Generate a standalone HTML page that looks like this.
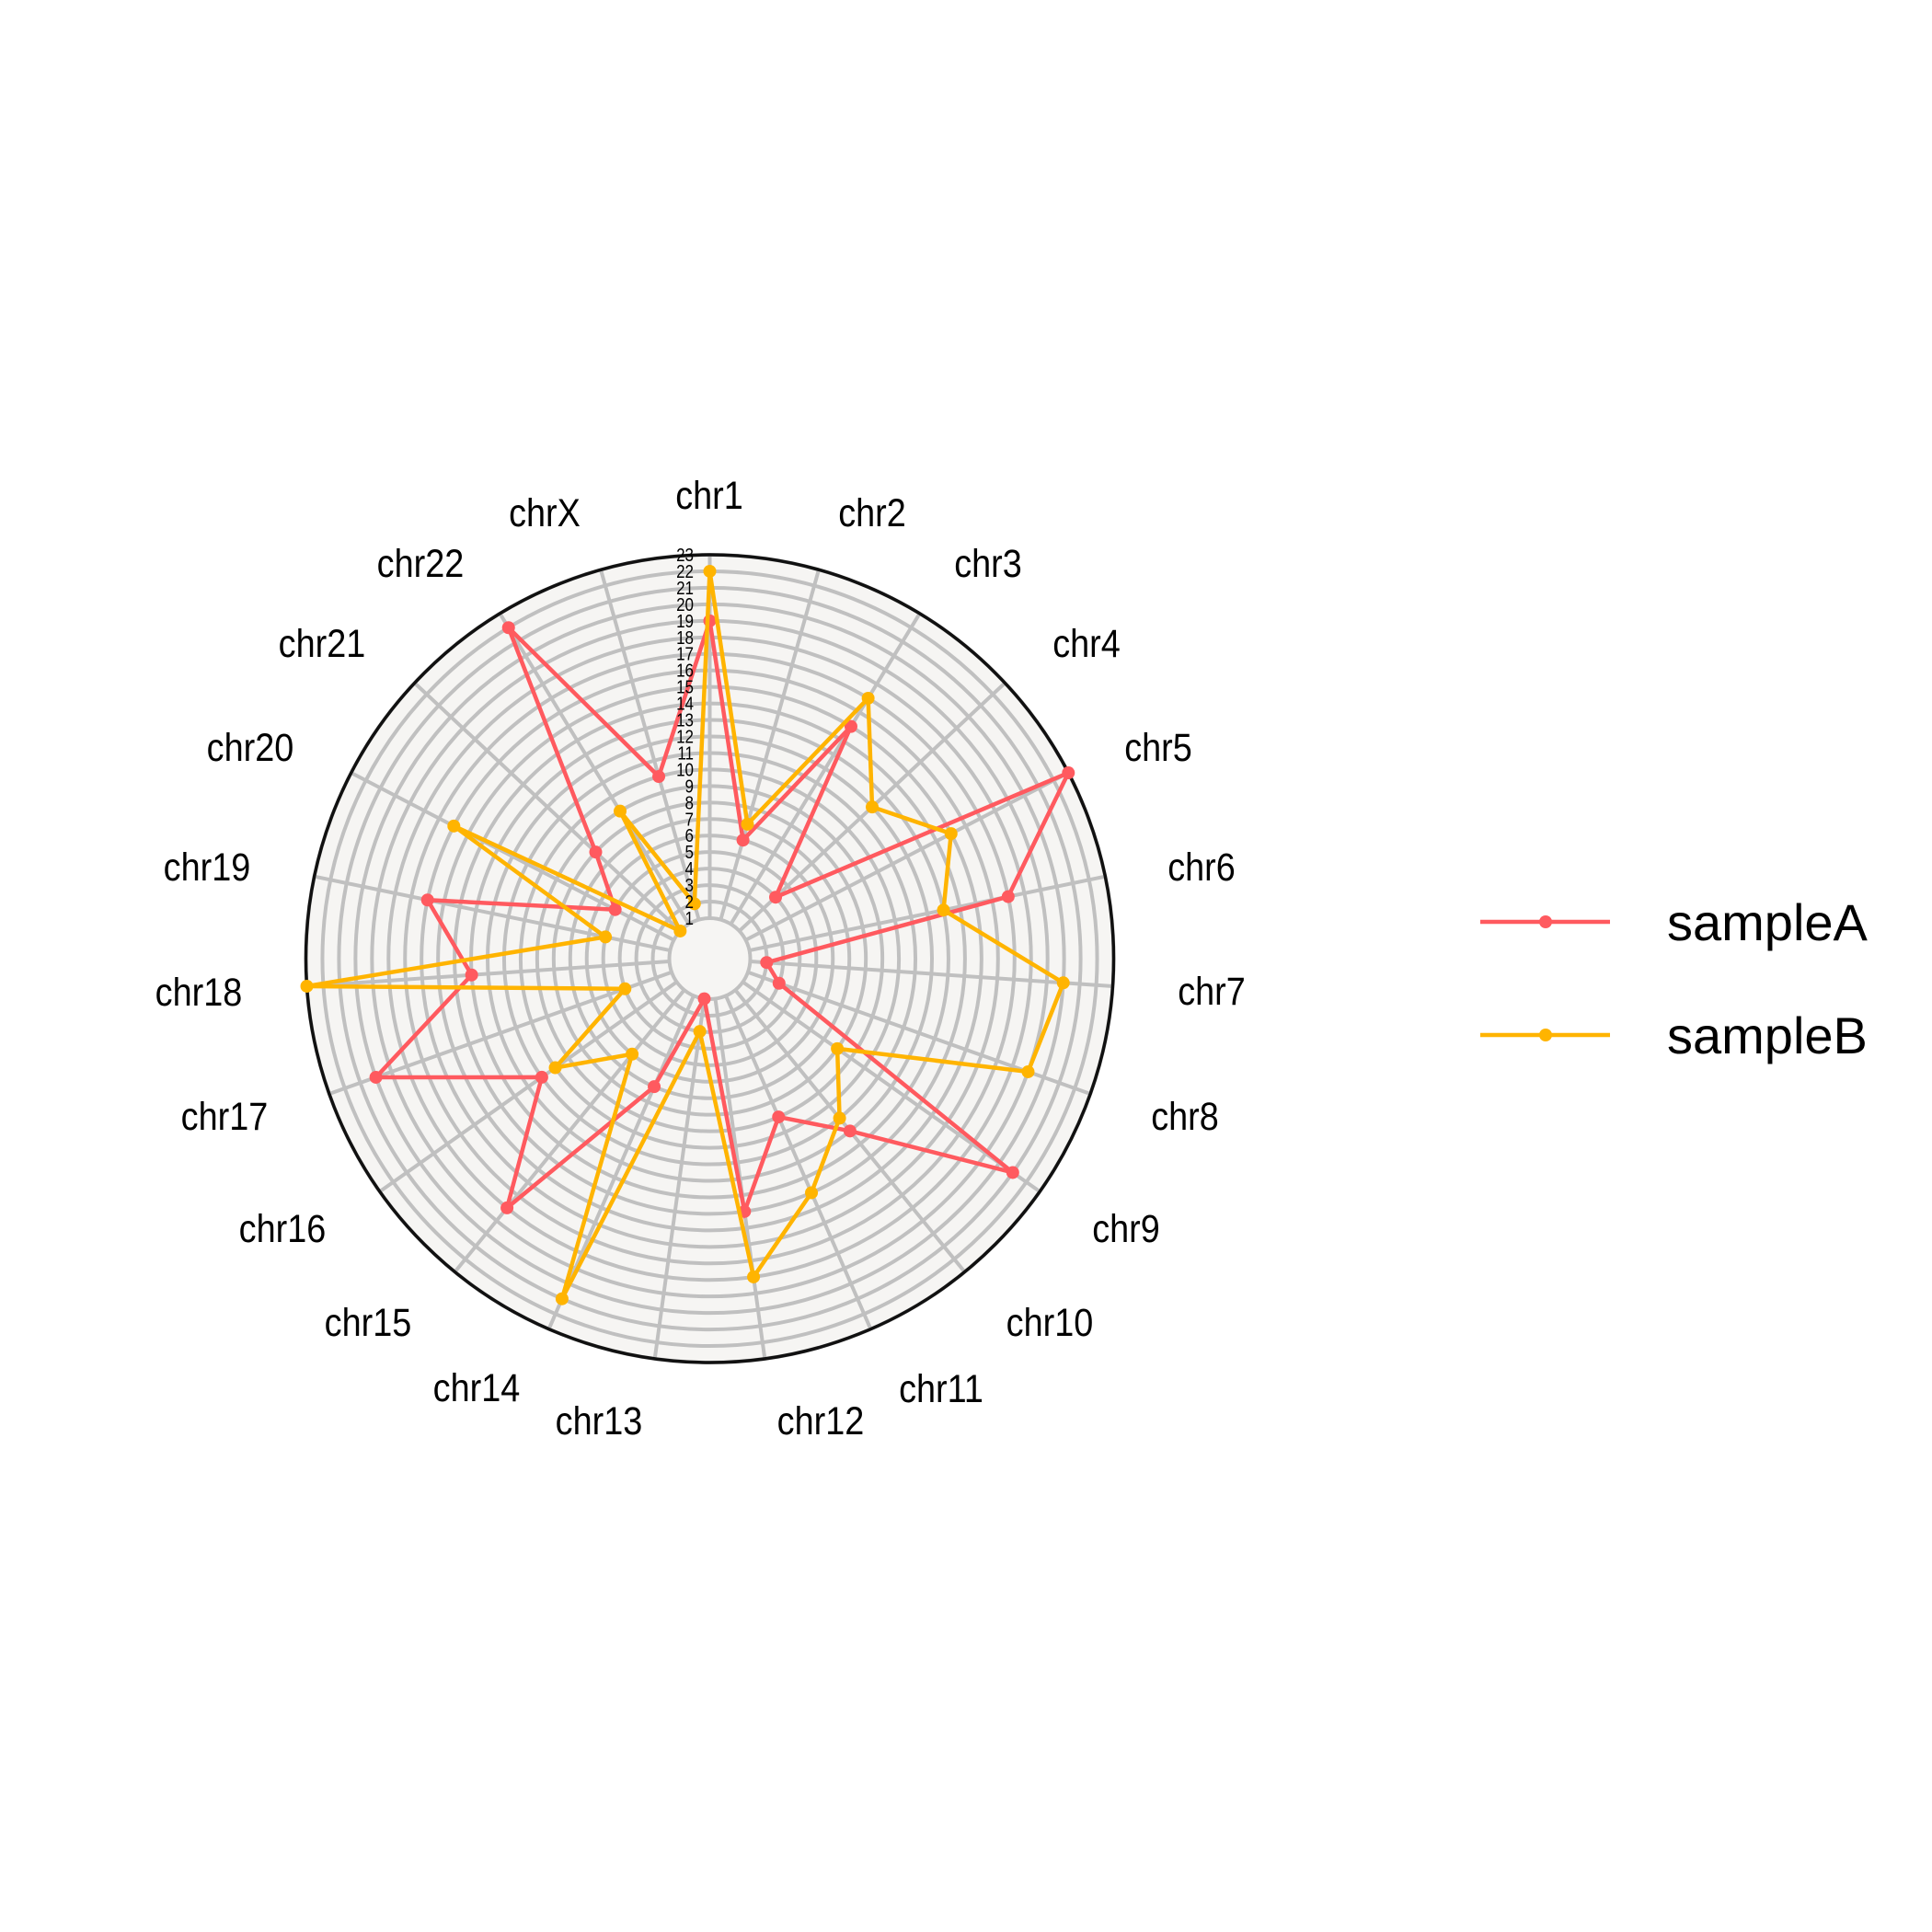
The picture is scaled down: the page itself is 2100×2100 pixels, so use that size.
<!DOCTYPE html>
<html><head><meta charset="utf-8"><style>
html,body{margin:0;padding:0;background:#fff;}
svg{display:block;font-family:"Liberation Sans",sans-serif;}
</style></head><body>
<svg id="chart" width="2100" height="2100" viewBox="0 0 2100 2100" xmlns="http://www.w3.org/2000/svg">
<g id="grid"></g>
<g id="series"></g>
<g id="labels"></g>
<g id="ticks"></g>
<g>
  <g>
    <line x1="1609" y1="1002" x2="1750" y2="1002" stroke="#ff5a5f" stroke-width="4.5"/>
    <circle cx="1680" cy="1002" r="7" fill="#ff5a5f"/>
    <text x="1812" y="1022" font-size="56" fill="#000">sampleA</text>
  </g>
  <g>
    <line x1="1609" y1="1125" x2="1750" y2="1125" stroke="#ffb400" stroke-width="4.5"/>
    <circle cx="1680" cy="1125" r="7" fill="#ffb400"/>
    <text x="1812" y="1145" font-size="56" fill="#000">sampleB</text>
  </g>
</g>
</svg>
<script>
const categories = ["chr1","chr2","chr3","chr4","chr5","chr6","chr7","chr8","chr9","chr10","chr11","chr12","chr13","chr14","chr15","chr16","chr17","chr18","chr19","chr20","chr21","chr22","chrX"];
const sampleA = [19,6,15,4,23,17,2,3,21,12,9,14,1,7,18,11,20,13,16,5,8,22,10];
const sampleB = [22,7,17,12,15,13,20,19,8,11,14,18,3,21,6,10,4,23,5,16,1,9,2];
const tickValues = [1,2,3,4,5,6,7,8,9,10,11,12,13,14,15,16,17,18,19,20,21,22,23];

const NS="http://www.w3.org/2000/svg";
const cx=771.5, cy=1042, r0=44, vMin=1, vMax=23, rMax=439;
function rScale(v){return r0+(v-vMin)*(rMax-r0)/(vMax-vMin);}
function ang(i){return i*2*Math.PI/categories.length;}
function pt(i,v){const r=rScale(v),a=ang(i);return [cx+r*Math.sin(a),cy-r*Math.cos(a)];}
function mk(tag,attrs,parent){const e=document.createElementNS(NS,tag);for(const k in attrs)e.setAttribute(k,attrs[k]);parent.appendChild(e);return e;}

const grid=document.getElementById('grid');
const bg=mk('circle',{cx:cx,cy:cy,r:rMax,fill:'#f6f5f3'},grid);


tickValues.forEach(v=>{
  const c=mk('circle',{cx:cx,cy:cy,r:rScale(v),fill:'none',stroke:'#c0c0c0','stroke-width':4},grid);
  
  
});
categories.forEach((c,i)=>{
  const a=pt(i,vMin),b=pt(i,vMax);
  const l=mk('line',{x1:a[0],y1:a[1],x2:b[0],y2:b[1],stroke:'#c0c0c0','stroke-width':4},grid);
  
  
});
const outer=mk('circle',{cx:cx,cy:cy,r:rMax,fill:'none',stroke:'#111','stroke-width':3.5},grid);



const series=document.getElementById('series');
function drawSeries(vals,color,name){
  const g=mk('g',{},series);
  
  
  const pts=vals.map((v,i)=>pt(i,v));
  pts.push(pts[0]);
  const pl=mk('polyline',{points:pts.map(p=>p.join(',')).join(' '),fill:'none',stroke:color,'stroke-width':4.5,'stroke-linejoin':'miter'},g);
  
  
  vals.forEach((v,i)=>{
    const p=pt(i,v);
    const c=mk('circle',{cx:p[0],cy:p[1],r:7,fill:color},g);
    
    
  });
}
drawSeries(sampleA,'#ff5a5f','sampleA');
drawSeries(sampleB,'#ffb400','sampleB');

// label layout (pixel anchors for category text, measured from reference)
const labelX=[771,948,1074,1181,1259,1306,1317,1288,1224,1141,1023,892,651,518,400,307,244,216,225,272,350,457,592];
const labelY=[538,557,612,699,812,942,1077,1213,1335,1437,1509,1544,1544,1508,1437,1335,1213,1078,942,812,699,612,557];
const labels=document.getElementById('labels');
categories.forEach((c,i)=>{
  const x=labelX[i], y=labelY[i];
  const t=mk('text',{x:0,y:15,'font-size':43,'text-anchor':'middle',fill:'#000',transform:`translate(${x},${y}) scale(0.88,1)`},labels);
  t.textContent=c;
  
  
});

const ticks=document.getElementById('ticks');
tickValues.forEach(v=>{
  const y=cy-rScale(v);
  const t=mk('text',{x:0,y:7,'font-size':20,'text-anchor':'end',fill:'#000',transform:`translate(754,${y}) scale(0.85,1)`},ticks);
  t.textContent=String(v);
  
  
});
</script>
</body></html>
